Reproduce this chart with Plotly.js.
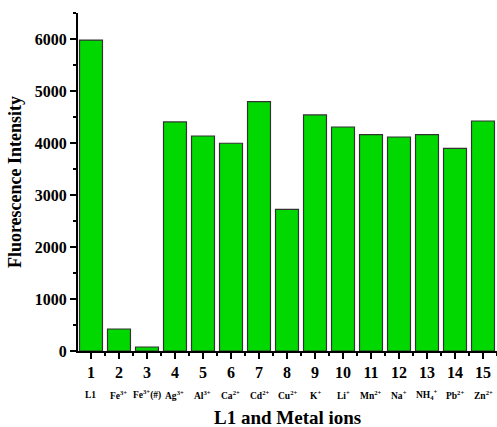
<!DOCTYPE html>
<html><head><meta charset="utf-8">
<script src="https://cdn.plot.ly/plotly-3.0.1.min.js"></script>
<style>html,body{margin:0;padding:0;background:#fff}#chart{width:497px;height:427px}</style>
</head><body><div id="chart"></div>
<script>
const positions = [1,2,3,4,5,6,7,8,9,10,11,12,13,14,15];
const ionLabels = ["L1","Fe<sup>3+</sup>","Fe<sup>3+</sup>(#)","Ag<sup>3+</sup>","Al<sup>3+</sup>","Ca<sup>2+</sup>","Cd<sup>2+</sup>","Cu<sup>2+</sup>","K<sup>+</sup>","Li<sup>+</sup>","Mn<sup>2+</sup>","Na<sup>+</sup>","NH<sub>4</sub><sup>+</sup>","Pb<sup>2+</sup>","Zn<sup>2+</sup>"];
const intensity = [5980,423,77,4405,4135,3995,4795,2725,4540,4308,4160,4115,4160,3898,4423];
const yTicks = [0,1000,2000,3000,4000,5000,6000];

const font = "Liberation Serif, Times New Roman, serif";
const trace = {
  type: "bar", x: positions, y: intensity, width: 0.82,
  marker: {color: "#00d800", line: {color: "#333333", width: 1.2}},
  hoverinfo: "none"
};
const annotations = positions.map((p, i) => ({
  x: p, xref: "x", y: -0.13, yref: "paper", yanchor: "middle",
  text: "<b>" + ionLabels[i] + "</b>", showarrow: false,
  font: {family: font, size: 9.5, color: "#000"}
}));
annotations.push({
  x: 0.5, xref: "paper", y: -0.198, yref: "paper", yanchor: "middle", xanchor: "center",
  text: "<b>L1 and Metal ions</b>", showarrow: false,
  font: {family: font, size: 19, color: "#000"}
});
const layout = {
  width: 497, height: 427,
  margin: {l: 78, r: 0, t: 13, b: 76},
  paper_bgcolor: "#fff", plot_bgcolor: "#fff",
  showlegend: false,
  xaxis: {
    range: [0.536, 15.5], tickmode: "array", tickvals: positions,
    ticktext: positions.map(p => "<b>" + p + "</b>"),
    ticks: "outside", ticklen: 6, tickwidth: 1.5, tickcolor: "#000",
    minor: {tickmode: "linear", tick0: 0.5, dtick: 1, ticks: "outside", ticklen: 3, tickwidth: 1.5, tickcolor: "#000"},
    showline: true, linecolor: "#000", linewidth: 2, showgrid: false, zeroline: false,
    tickfont: {family: font, size: 16, color: "#000"}
  },
  yaxis: {
    range: [0, 6500], tickmode: "array", tickvals: yTicks,
    ticktext: yTicks.map(v => "<b>" + v + "</b>"),
    ticks: "outside", ticklen: 6, tickwidth: 1.5, tickcolor: "#000",
    minor: {tickmode: "linear", tick0: 500, dtick: 1000, ticks: "outside", ticklen: 3, tickwidth: 1.5, tickcolor: "#000"},
    showline: true, linecolor: "#000", linewidth: 2, showgrid: false, zeroline: false,
    tickfont: {family: font, size: 16, color: "#000"},
    title: {text: "<b>Fluorescence Intensity</b>", font: {family: font, size: 18, color: "#000"}, standoff: 8}
  },
  annotations: annotations
};
Plotly.newPlot("chart", [trace], layout, {displayModeBar: false, staticPlot: true});
</script></body></html>
